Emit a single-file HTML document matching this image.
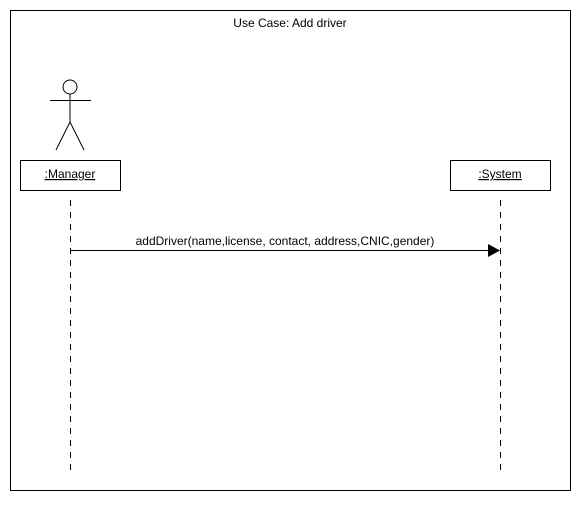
<!DOCTYPE html>
<html><head><style>body{margin:0;background:#fff}</style></head><body>
<svg width="580" height="500" xmlns="http://www.w3.org/2000/svg" font-family="Liberation Sans, Arial, sans-serif" font-size="12">
<rect x="10.5" y="10.5" width="560" height="480" fill="#fff" stroke="#000"/>
<text x="290" y="27" text-anchor="middle">Use Case: Add driver</text>
<circle cx="70" cy="87" r="7" fill="#fff" stroke="#000"/>
<line x1="70" y1="94" x2="70" y2="122" stroke="#000"/>
<line x1="50" y1="100.5" x2="91" y2="100.5" stroke="#000"/>
<line x1="70" y1="122" x2="56" y2="150" stroke="#000"/>
<line x1="70" y1="122" x2="84" y2="150" stroke="#000"/>
<rect x="20.5" y="160.5" width="100" height="30" fill="#fff" stroke="#000"/>
<text x="70" y="178" text-anchor="middle" text-decoration="underline">:Manager</text>
<rect x="450.5" y="160.5" width="100" height="30" fill="#fff" stroke="#000"/>
<text x="500" y="178" text-anchor="middle" text-decoration="underline">:System</text>
<line x1="70.5" y1="200" x2="70.5" y2="470" stroke="#000" stroke-dasharray="6,6"/>
<line x1="500.5" y1="200" x2="500.5" y2="470" stroke="#000" stroke-dasharray="6,6"/>
<line x1="70" y1="250.5" x2="490" y2="250.5" stroke="#000"/>
<polygon points="488,244 500,250.5 488,257" fill="#000"/>
<text x="285" y="245" text-anchor="middle">addDriver(name,license, contact, address,CNIC,gender)</text>
</svg>
</body></html>
